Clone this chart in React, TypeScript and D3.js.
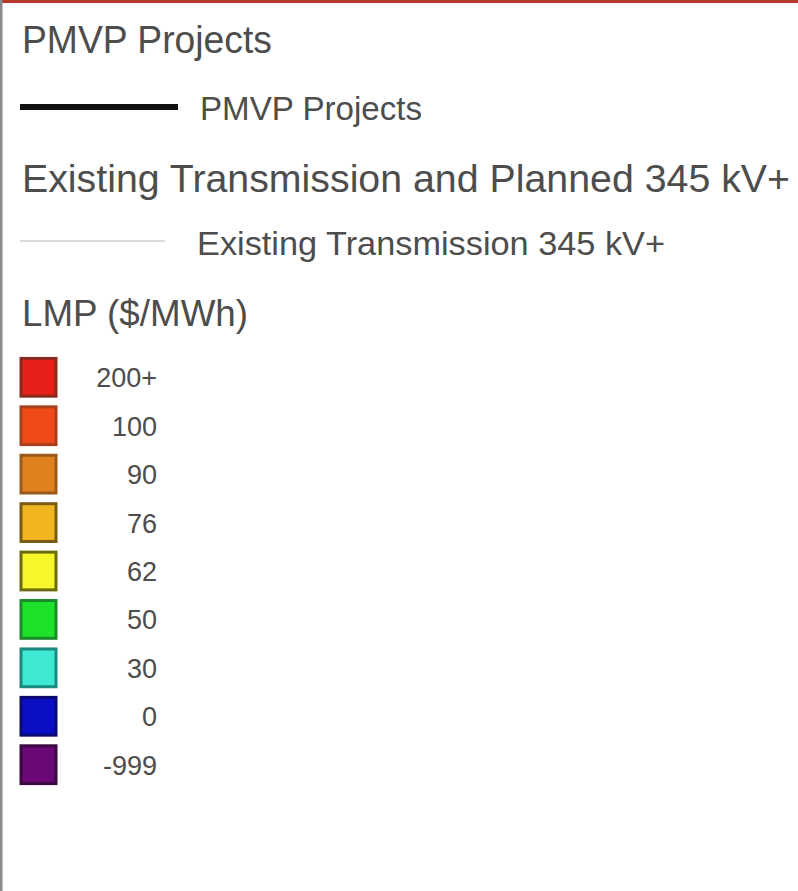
import React, { useEffect } from "react";
import * as d3 from "d3";

const lmpLabels = ["200+", "100", "90", "76", "62", "50", "30", "0", "-999"];
const lmpFills = ["#e8201a", "#f04a18", "#e0801e", "#f2b522", "#f6f62a", "#1ee22a", "#3ee8d2", "#0a0ec4", "#6a0878"];
const lmpStrokes = ["#8a2a1c", "#a8401c", "#9a5a1c", "#7a5a10", "#6a6a10", "#1a8a2a", "#1a8a80", "#0a0a70", "#3a0a40"];

const headings = ["PMVP Projects", "Existing Transmission and Planned 345 kV+", "LMP ($/MWh)"];
const lineLabels = ["PMVP Projects", "Existing Transmission 345 kV+"];

export default function App() {
  useEffect(() => {
    document.body.style.margin = "0";
  }, []);

  const W = 798;
  const H = 891;
  const y = d3.scaleBand<string>().domain(lmpLabels).range([356, 786]).paddingInner(0.22).paddingOuter(0.05);
  const textColor = "#4d4d4d";
  const font = "Liberation Sans, Arial, sans-serif";

  return (
    <svg width={W} height={H} style={{ display: "block", background: "#fff" }}>
      <rect x={0} y={0} width={W} height={H} fill="#ffffff" />
      <rect x={0} y={0} width={W} height={3} fill="#b33a2a" />
      <rect x={0} y={0} width={2.5} height={H} fill="#8a8a8a" />

      <text x={22} y={53} fontFamily={font} fontSize={38} fill={textColor} textLength={250} lengthAdjust="spacingAndGlyphs">{headings[0]}</text>

      <line x1={20} x2={178} y1={107} y2={107} stroke="#111" strokeWidth={6} />
      <text x={200} y={120} fontFamily={font} fontSize={34} fill={textColor} textLength={222} lengthAdjust="spacingAndGlyphs">{lineLabels[0]}</text>

      <text x={22} y={192} fontFamily={font} fontSize={38} fill={textColor} textLength={768} lengthAdjust="spacingAndGlyphs">{headings[1]}</text>

      <line x1={20} x2={165} y1={241} y2={241} stroke="#cfcfcf" strokeWidth={1.5} />
      <text x={197} y={255} fontFamily={font} fontSize={34} fill={textColor} textLength={468} lengthAdjust="spacingAndGlyphs">{lineLabels[1]}</text>

      <text x={22} y={326} fontFamily={font} fontSize={37} fill={textColor} textLength={226} lengthAdjust="spacingAndGlyphs">{headings[2]}</text>

      {lmpLabels.map((lab, i) => {
        const y0 = y(lab)!;
        const bw = y.bandwidth();
        return (
          <g key={lab}>
            <rect x={21} y={y0} width={35} height={bw} fill={lmpFills[i]} stroke={lmpStrokes[i]} strokeWidth={3} />
            <text x={157} y={y0 + bw / 2 + 10} textAnchor="end" fontFamily={font} fontSize={27} fill={textColor}>{lab}</text>
          </g>
        );
      })}
    </svg>
  );
}
